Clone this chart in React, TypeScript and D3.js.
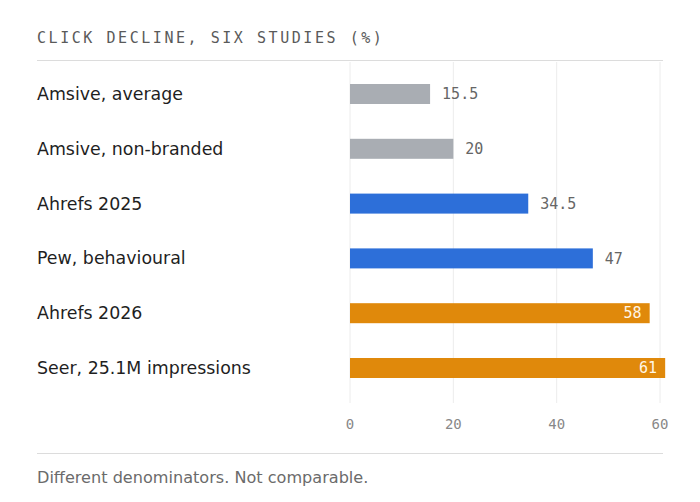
import React, { useRef, useEffect } from 'react';
import * as d3 from 'd3';

const studies = [
  'Amsive, average',
  'Amsive, non-branded',
  'Ahrefs 2025',
  'Pew, behavioural',
  'Ahrefs 2026',
  'Seer, 25.1M impressions',
];
const declines = [15.5, 20, 34.5, 47, 58, 61];
const groups = ['low', 'low', 'mid', 'mid', 'high', 'high'];
const ticks = [0, 20, 40, 60];

const colorOf: Record<string, string> = {
  low: '#a9adb3',
  mid: '#2d6fd9',
  high: '#e0890b',
};

const mono = '"DejaVu Sans Mono", monospace';
const sans = '"DejaVu Sans", sans-serif';

export default function App() {
  const width = 700;
  const height = 502;
  const svgRef = useRef<SVGSVGElement>(null);

  useEffect(() => {
    if (!svgRef.current) return;
    const svg = d3.select(svgRef.current);
    svg.selectAll('*').remove();

    const x = d3.scaleLinear().domain([0, 60]).range([350, 660]);
    const y = d3.scaleBand<string>()
      .domain(studies)
      .range([66.6, 395.4])
      .paddingInner(0.635)
      .paddingOuter(0.3175);

    // title + rules
    svg.append('text')
      .attr('x', 37)
      .attr('y', 43)
      .attr('font-family', mono)
      .attr('font-size', 15)
      .attr('letter-spacing', 2.55)
      .attr('fill', '#5a5a5a')
      .text('CLICK DECLINE, SIX STUDIES (%)');

    svg.append('line')
      .attr('x1', 37).attr('x2', 663)
      .attr('y1', 60.5).attr('y2', 60.5)
      .attr('stroke', '#dcdcdc');

    svg.append('line')
      .attr('x1', 37).attr('x2', 663)
      .attr('y1', 453.5).attr('y2', 453.5)
      .attr('stroke', '#dcdcdc');

    // grid
    svg.append('g')
      .selectAll('line')
      .data(ticks)
      .enter()
      .append('line')
      .attr('x1', d => x(d)).attr('x2', d => x(d))
      .attr('y1', 62).attr('y2', 403)
      .attr('stroke', '#ececec');

    svg.append('g')
      .selectAll('text')
      .data(ticks)
      .enter()
      .append('text')
      .attr('x', d => x(d))
      .attr('y', 429)
      .attr('text-anchor', 'middle')
      .attr('font-family', mono)
      .attr('font-size', 14)
      .attr('fill', '#888')
      .text(d => d);

    const rows = studies.map((s, i) => ({ s, v: declines[i], g: groups[i] }));

    svg.append('g')
      .selectAll('text')
      .data(rows)
      .enter()
      .append('text')
      .attr('x', 37)
      .attr('y', d => (y(d.s) as number) + y.bandwidth() / 2)
      .attr('dy', '0.35em')
      .attr('font-family', sans)
      .attr('font-size', 17.4)
      .attr('fill', '#1f1f1f')
      .text(d => d.s);

    svg.append('g')
      .selectAll('rect')
      .data(rows)
      .enter()
      .append('rect')
      .attr('x', x(0))
      .attr('y', d => y(d.s) as number)
      .attr('width', d => x(d.v) - x(0))
      .attr('height', y.bandwidth())
      .attr('fill', d => colorOf[d.g]);

    svg.append('g')
      .selectAll('text')
      .data(rows)
      .enter()
      .append('text')
      .attr('x', d => (d.v >= 50 ? x(d.v) - 8 : x(d.v) + 12))
      .attr('y', d => (y(d.s) as number) + y.bandwidth() / 2)
      .attr('dy', '0.35em')
      .attr('text-anchor', d => (d.v >= 50 ? 'end' : 'start'))
      .attr('font-family', mono)
      .attr('font-size', 15)
      .attr('fill', d => (d.v >= 50 ? '#fff6e6' : '#666'))
      .text(d => d.v);

    svg.append('text')
      .attr('x', 37)
      .attr('y', 483)
      .attr('font-family', sans)
      .attr('font-size', 16.1)
      .attr('fill', '#6b6b6b')
      .text('Different denominators. Not comparable.');
  }, []);

  return (
    <svg
      ref={svgRef}
      width={width}
      height={height}
      style={{ position: 'absolute', left: 0, top: 0, background: '#fff' }}
    />
  );
}
